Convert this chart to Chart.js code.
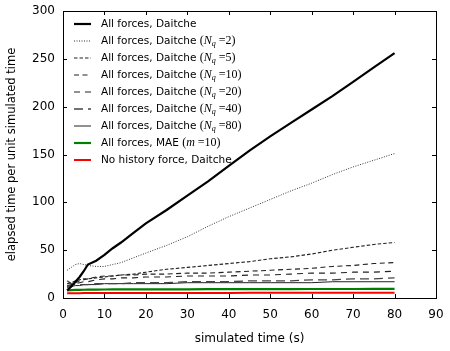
<!DOCTYPE html>
<html>
<head>
<meta charset="utf-8">
<script src="https://cdn.jsdelivr.net/npm/chart.js@4"></script>
<style>
  html, body { margin: 0; padding: 0; background: #fff; }
  #wrap { width: 450px; height: 351px; }
</style>
</head>
<body>
<div id="wrap"><canvas id="chart" width="450" height="351"></canvas></div>
<script>
// simulated time (s)
const times = [1, 2, 3, 4, 5, 6, 8, 10, 12, 14, 17, 20, 25, 30, 35, 40, 45, 50, 55, 60, 65, 70, 75, 80];

// elapsed time per unit simulated time
const daitche = [8, 12, 17, 22, 28, 35, 39, 45, 52, 58, 68, 78, 92, 107, 122, 138, 154, 169, 183, 197, 211, 226, 241, 256];
const daitcheNq2 = [29, 32, 35, 36, 35, 34, 33, 33, 35, 37, 42, 47, 55, 64, 75, 85, 94, 103, 112, 120, 129, 137, 144, 151];
const daitcheNq5 = [15, 16, 18, 19, 20, 20, 21, 22, 23, 24, 25, 27, 30, 32, 34, 36, 38, 41, 43, 46, 50, 53, 56, 58];
const daitcheNq10 = [13, 14, 16, 18, 19, 20, 22, 23, 23, 24, 24, 25, 25, 26, 26, 27, 28, 29, 30, 31, 33, 34, 36, 37];
const daitcheNq20 = [12, 13, 15, 16, 17, 17, 19, 20, 20, 21, 21, 22, 22, 23, 23, 23, 24, 24, 25, 26, 26, 27, 27, 28];
const daitcheNq40 = [18, 15, 14, 14, 14, 14, 15, 15, 15, 15, 16, 16, 16, 17, 17, 17, 18, 18, 18, 19, 19, 20, 20, 21];
const daitcheNq80 = [11, 12, 13, 13, 14, 14, 14, 15, 15, 15, 15, 15, 15, 16, 16, 16, 16, 16, 16, 16, 17, 17, 17, 17];
const maeM10 = [8, 8.2, 8.4, 8.5, 8.6, 8.7, 8.8, 8.9, 9, 9, 9, 9, 9.1, 9.1, 9.2, 9.2, 9.2, 9.3, 9.3, 9.4, 9.4, 9.4, 9.5, 9.5];
const noHistory = [5, 5, 5, 5, 5.1, 5.1, 5.1, 5.1, 5.2, 5.2, 5.2, 5.2, 5.3, 5.3, 5.3, 5.3, 5.4, 5.4, 5.4, 5.4, 5.5, 5.5, 5.5, 5.5];

const seriesLabels = [
    'All forces, Daitche',
    'All forces, Daitche (N_q =2)',
    'All forces, Daitche (N_q =5)',
    'All forces, Daitche (N_q =10)',
    'All forces, Daitche (N_q =20)',
    'All forces, Daitche (N_q =40)',
    'All forces, Daitche (N_q =80)',
    'All forces, MAE (m =10)',
    'No history force, Daitche'
];

const xTicks = [0, 10, 20, 30, 40, 50, 60, 70, 80, 90];
const yTicks = [0, 50, 100, 150, 200, 250, 300];

function pts(values) {
    return times.map((t, i) => ({ x: t, y: values[i] }));
}

const styles = [
    { color: '#000', width: 2.2, dash: [] },
    { color: '#333', width: 1, dash: [1, 1.5] },
    { color: '#222', width: 1.1, dash: [3.5, 2] },
    { color: '#222', width: 1.1, dash: [5, 3.5] },
    { color: '#222', width: 1.1, dash: [6, 5] },
    { color: '#444', width: 1.3, dash: [9, 5] },
    { color: '#222', width: 1, dash: [] },
    { color: '#008000', width: 2.2, dash: [] },
    { color: '#ff0000', width: 2, dash: [] }
];
const seriesValues = [daitche, daitcheNq2, daitcheNq5, daitcheNq10, daitcheNq20, daitcheNq40, daitcheNq80, maeM10, noHistory];

// legend drawn by hand so the math parts can get subscripts
const texLegend = {
    id: 'texLegend',
    afterDraw(chart) {
        const ctx = chart.ctx;
        const a = chart.chartArea;
        chart.data.datasets.forEach((ds, i) => {
            const y = a.top + 13 + i * 17;
            const x0 = a.left + 11;
            ctx.save();
            ctx.strokeStyle = ds.borderColor;
            ctx.lineWidth = ds.borderWidth;
            ctx.setLineDash(ds.borderDash || []);
            ctx.beginPath();
            ctx.moveTo(x0, y);
            ctx.lineTo(x0 + 17, y);
            ctx.stroke();
            ctx.setLineDash([]);
            ctx.fillStyle = '#000';
            ctx.textBaseline = 'middle';
            let x = x0 + 27;
            const label = ds.label;
            const k = label.indexOf(' (');
            const plain = k < 0 ? label : label.slice(0, k + 1);
            ctx.font = '10.5px "DejaVu Sans"';
            ctx.fillText(plain, x, y);
            x += ctx.measureText(plain).width;
            if (k >= 0) {
                const math = label.slice(k + 1);
                for (let j = 0; j < math.length; j++) {
                    let ch = math[j];
                    let dy = 0;
                    if (ch === '_') {
                        j++;
                        ch = math[j];
                        ctx.font = 'italic 8px "Liberation Serif"';
                        dy = 3;
                    } else if (/[A-Za-z]/.test(ch)) {
                        ctx.font = 'italic 12px "Liberation Serif"';
                    } else {
                        ctx.font = '12px "Liberation Serif"';
                    }
                    ctx.fillText(ch, x, y + dy);
                    x += ctx.measureText(ch).width;
                }
            }
            ctx.restore();
        });
    }
};

// box frame with inward ticks on all four sides
const frameTicks = {
    id: 'frameTicks',
    afterDraw(chart) {
        const ctx = chart.ctx;
        const a = chart.chartArea;
        const xs = chart.scales.x;
        const ys = chart.scales.y;
        ctx.save();
        ctx.strokeStyle = '#000';
        ctx.lineWidth = 1;
        ctx.strokeRect(Math.round(a.left) + 0.5, Math.round(a.top) + 0.5, Math.round(a.right - a.left), Math.round(a.bottom - a.top));
        ctx.beginPath();
        xTicks.forEach(v => {
            const px = Math.round(xs.getPixelForValue(v)) + 0.5;
            ctx.moveTo(px, a.bottom); ctx.lineTo(px, a.bottom - 4);
            ctx.moveTo(px, a.top); ctx.lineTo(px, a.top + 4);
        });
        yTicks.forEach(v => {
            const py = Math.round(ys.getPixelForValue(v)) + 0.5;
            ctx.moveTo(a.left, py); ctx.lineTo(a.left + 4, py);
            ctx.moveTo(a.right, py); ctx.lineTo(a.right - 4, py);
        });
        ctx.stroke();
        ctx.restore();
    }
};

const ctx = document.getElementById('chart').getContext('2d');
new Chart(ctx, {
    type: 'line',
    data: {
        datasets: seriesValues.map((vals, i) => ({
            label: seriesLabels[i],
            data: pts(vals),
            borderColor: styles[i].color,
            borderWidth: styles[i].width,
            borderDash: styles[i].dash,
            pointRadius: 0,
            fill: false,
            tension: 0
        }))
    },
    options: {
        responsive: false,
        animation: false,
        layout: { padding: { top: 11, right: 14, left: 0, bottom: 0 } },
        plugins: {
            legend: { display: false },
            tooltip: { enabled: false }
        },
        scales: {
            x: {
                type: 'linear',
                min: 0,
                max: 90,
                afterBuildTicks: s => { s.ticks = xTicks.map(v => ({ value: v })); },
                afterFit: s => { s.height = 53; s.paddingRight = 0; s.paddingLeft = 0; },
                grid: { drawOnChartArea: false, drawTicks: false },
                border: { display: false },
                ticks: { autoSkip: false, maxRotation: 0, padding: 10, color: '#000', font: { family: 'DejaVu Sans', size: 12 } },
                title: { display: true, text: 'simulated time (s)', color: '#000', padding: { top: 0, bottom: 5 }, font: { family: 'DejaVu Sans', size: 12 } }
            },
            y: {
                min: 0,
                max: 300,
                afterBuildTicks: s => { s.ticks = yTicks.map(v => ({ value: v })); },
                afterFit: s => { s.width = 63; s.paddingTop = 0; s.paddingBottom = 0; },
                grid: { drawOnChartArea: false, drawTicks: false },
                border: { display: false },
                ticks: { autoSkip: false, padding: 8, color: '#000', font: { family: 'DejaVu Sans', size: 12 } },
                title: { display: true, text: 'elapsed time per unit simulated time', color: '#000', padding: { top: 5, bottom: 0 }, font: { family: 'DejaVu Sans', size: 11.5 } }
            }
        }
    },
    plugins: [texLegend, frameTicks]
});
</script>
</body>
</html>
